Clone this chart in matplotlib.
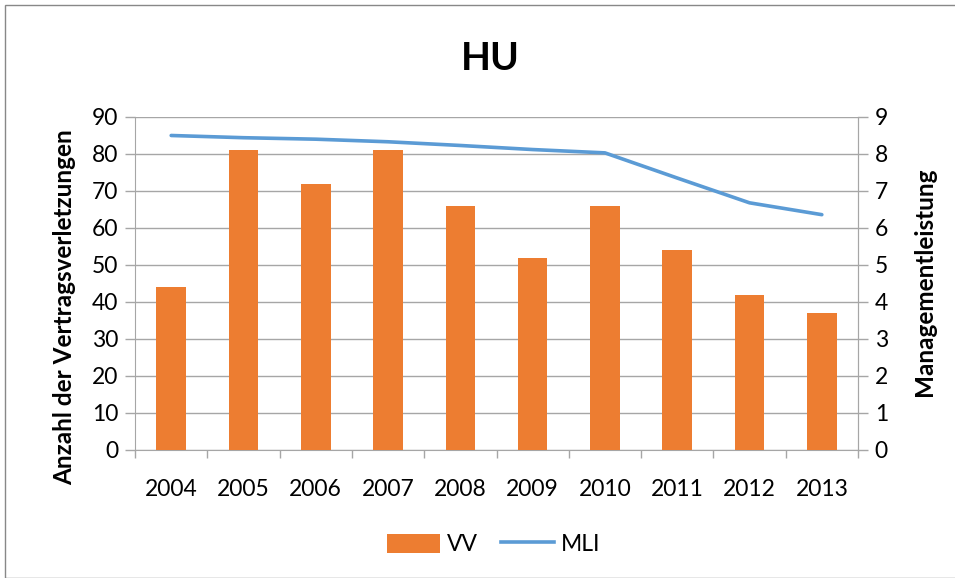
import matplotlib
matplotlib.use("Agg")
import matplotlib.pyplot as plt
from matplotlib.patches import Rectangle, Patch
from matplotlib.lines import Line2D
import numpy as np

plt.rcParams['font.family'] = ['Lato', 'DejaVu Sans']

years = ['2004', '2005', '2006', '2007', '2008', '2009', '2010', '2011', '2012', '2013']
vv = [44, 81, 72, 81, 66, 52, 66, 54, 42, 37]
mli = [8.5, 8.44, 8.4, 8.33, 8.23, 8.12, 8.03, 7.35, 6.68, 6.36]

orange = '#ED7D31'
blue = '#5B9BD5'
grid_c = '#a6a6a6'

fig = plt.figure(figsize=(9.55, 5.78), dpi=100)
fig.patches.append(Rectangle((5/955, 0), 1, 1 - 5/578, transform=fig.transFigure,
                             fill=False, edgecolor='#888888', linewidth=1))
ax = fig.add_axes([0.1414, 0.2215, 0.757, 0.5761])
x = np.arange(len(years))
ax.bar(x, vv, width=0.41, color=orange, zorder=3)
ax.set_xlim(-0.5, len(years) - 0.5)
ax.set_ylim(0, 90)
ax.set_yticks(range(0, 91, 10))
ax.grid(axis='y', color=grid_c, linewidth=1, zorder=0)
ax.set_xticks(x)
ax.set_xticklabels(years, fontsize=16.5)
ax.set_xticks(np.arange(-0.5, len(years), 1), minor=True)
ax.tick_params(axis='x', which='major', length=0, pad=21)
ax.tick_params(axis='x', which='minor', length=6, color=grid_c, width=1)
ax.tick_params(axis='y', labelsize=16.5, length=7, color=grid_c, width=1, pad=5)
for s in ['top']:
    ax.spines[s].set_visible(False)
for s in ['left', 'right', 'bottom']:
    ax.spines[s].set_color(grid_c)
ax.set_ylabel('Anzahl der Vertragsverletzungen', fontsize=17.5, fontweight='bold', labelpad=6)
ax.yaxis.set_label_coords(-0.082, 0.43)

ax2 = ax.twinx()
ax2.plot(x, mli, color=blue, linewidth=2.6, solid_capstyle='round', zorder=4)
ax2.set_ylim(0, 9)
ax2.set_yticks(range(0, 10))
ax2.tick_params(axis='y', labelsize=16.5, length=7, color=grid_c, width=1, pad=5)
for s in ['top', 'left', 'bottom']:
    ax2.spines[s].set_visible(False)
ax2.spines['right'].set_color(grid_c)
ax2.set_ylabel('Managementleistung', fontsize=17.5, fontweight='bold', labelpad=8)
ax2.yaxis.set_label_coords(1.076, 0.505)

fig.text(0.513, 0.898, 'HU', ha='center', va='center', fontsize=28, fontweight='bold')

handles = [Patch(facecolor=orange, edgecolor='none', label='VV'),
           Line2D([0], [0], color=blue, linewidth=2.6, label='MLI')]
fig.legend(handles=handles, loc='center', bbox_to_anchor=(0.517, 0.058), ncol=2,
           frameon=False, fontsize=16.5, handlelength=2.3, handleheight=0.9,
           columnspacing=1.0, handletextpad=0.3)

fig.savefig('out.png', dpi=100)
